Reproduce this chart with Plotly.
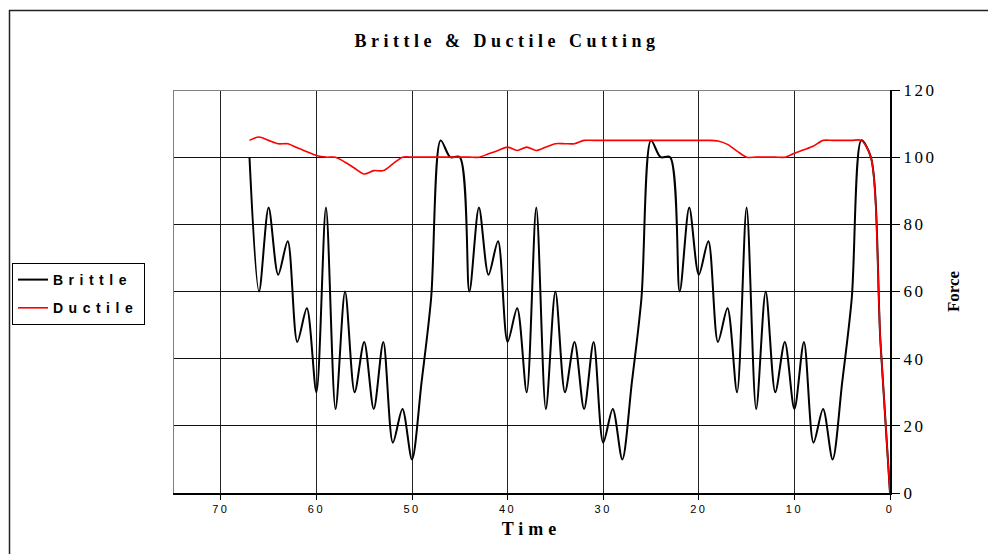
import plotly.graph_objects as go

# ---- data -------------------------------------------------------------
time = list(range(68))

brittle = [0, 45, 100, 105, 58, 33, 10, 25, 15, 45, 25, 45, 30, 60, 25, 85, 30, 55, 45, 75,
           65, 85, 60, 100, 100,
           105, 58, 33, 10, 25, 15, 45, 25, 45, 30, 60, 25, 85, 30, 55, 45, 75,
           65, 85, 60, 100, 100,
           105, 58, 33, 10, 25, 15, 45, 25, 45, 30, 60, 25, 85, 30, 55, 45, 75,
           65, 85, 60, 100]

ductile = [0, 45, 100, 105, 105, 105, 105, 105, 103.3, 102.2, 101.2, 100, 100, 100, 100, 100,
           101.8, 103.8, 104.8, 105, 105, 105, 105, 105, 105, 105, 105, 105, 105, 105, 105, 105,
           105, 104, 104, 104, 103, 102, 103, 102, 103, 102, 101, 100, 100, 100, 100, 100,
           100, 100, 100, 100, 98, 96, 96, 95, 96.7, 98.5, 100, 100, 100.5, 101.6, 102.8,
           104, 104, 105, 106, 105]

x_tick_vals = [0, 10, 20, 30, 40, 50, 60, 70]
x_tick_text = ["0", "10", "20", "30", "40", "50", "60", "70"]
y_tick_vals = [0, 20, 40, 60, 80, 100, 120]
y_tick_text = ["0", "20", "40", "60", "80", "100", "120"]

series_names = ["Brittle", "Ductile"]
chart_title = "Brittle & Ductile Cutting"
x_title = "Time"
y_title = "Force"


def spaced(s, px):
    return f'<span style="letter-spacing:{px}px">{s}</span>'


SERIF = "Liberation Serif, Times New Roman, serif"
SANS = "Liberation Sans, Arial, sans-serif"

fig = go.Figure()
fig.add_trace(go.Scatter(
    x=time, y=brittle, mode="lines", name=spaced("<b>" + series_names[0] + "</b>", 5.5),
    line=dict(color="black", width=2, shape="spline", smoothing=0.85),
    legendgroup="a"))
fig.add_trace(go.Scatter(
    x=time, y=ductile, mode="lines", name=spaced("<b>" + series_names[1] + "</b>", 5.5),
    line=dict(color="#ff0000", width=1.6, shape="spline", smoothing=0.8),
    legendgroup="b"))

L, R, T, B = 173, 98, 90, 61
W, H = 988, 554
pw, ph = W - L - R, H - T - B

fig.update_layout(
    width=W, height=H, autosize=False,
    margin=dict(l=L, r=R, t=T, b=B, pad=0),
    paper_bgcolor="white", plot_bgcolor="white",
    title=dict(text=spaced("<b>" + chart_title + "</b>", 4.5),
               x=507 / W, xref="container", xanchor="center",
               y=1 - 41 / H, yref="container", yanchor="middle",
               font=dict(family=SERIF, size=18, color="black")),
    legend=dict(x=(12 - L) / pw, xanchor="left", y=(H - B - 263) / ph, yanchor="top",
                bordercolor="black", borderwidth=1, bgcolor="white",
                font=dict(family=SANS, size=14, color="black"),
                tracegroupgap=7, itemwidth=30),
    xaxis=dict(range=[75, 0], tickvals=x_tick_vals,
               ticktext=[spaced(t, 2.5) for t in x_tick_text],
               ticks="outside", ticklen=5, tickcolor="black", tickwidth=1,
               showgrid=True, gridcolor="#222", gridwidth=1,
               showline=True, linecolor="black", linewidth=2, zeroline=False,
               tickfont=dict(family=SANS, size=11, color="black"),
               title=dict(text=spaced("<b>" + x_title + "</b>", 5),
                          font=dict(family=SERIF, size=18, color="black"), standoff=8)),
    yaxis=dict(range=[0, 120], side="right", tickvals=y_tick_vals,
               ticktext=[spaced(t, 2.5) for t in y_tick_text],
               ticks="outside", ticklen=8, tickcolor="black", tickwidth=1,
               showgrid=True, gridcolor="#111", gridwidth=1,
               showline=True, linecolor="black", linewidth=2, zeroline=False,
               tickfont=dict(family=SERIF, size=17, color="black"),
               title=dict(text="<b>" + y_title + "</b>",
                          font=dict(family=SERIF, size=17, color="black"), standoff=12)),
)

# grey plot-area border (top and far side) and outer chart frame
fig.add_shape(type="line", xref="x", yref="y", x0=75, x1=0, y0=120, y1=120,
              line=dict(color="#808080", width=2))
fig.add_shape(type="line", xref="x", yref="y", x0=75, x1=75, y0=0, y1=120,
              line=dict(color="#808080", width=2))
fig.add_shape(type="rect", xref="paper", yref="paper",
              x0=(9.5 - L) / pw, x1=(W + 60 - L) / pw,
              y0=(H - B - (H + 60)) / ph, y1=(H - B - 10.5) / ph,
              line=dict(color="#222", width=1.5), fillcolor="rgba(0,0,0,0)", layer="below")

fig.write_html("out.html", config={"displayModeBar": False})
